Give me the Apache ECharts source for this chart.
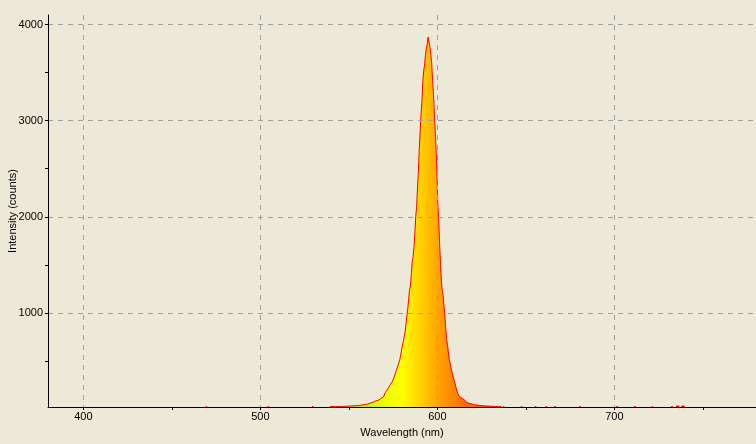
<!DOCTYPE html>
<html>
<head>
<meta charset="utf-8">
<script src="https://cdn.jsdelivr.net/npm/echarts@6/dist/echarts.min.js"></script>
<style>
html,body{margin:0;padding:0;background:#ece9d8;}
#chart{width:756px;height:444px;}
</style>
</head>
<body>
<div id="chart"></div>
<script>
// ---- data ----
const wavelengths = [
  380, 469, 470, 471, 504, 505, 506, 529, 530, 531,
  539, 540, 541, 542, 543, 544, 545, 546, 547, 548, 549, 550, 551, 552, 553, 554, 555,
  556, 557, 558, 559, 560, 561, 562, 563, 564, 565, 566, 567, 568, 569, 570, 571, 572,
  573, 574, 575, 576, 576.5, 577, 577.5, 578, 578.5, 579, 579.5, 580, 580.5, 581, 581.5,
  582, 582.5, 583, 583.5, 584, 584.5, 585, 585.5, 586, 586.5, 587, 587.5, 588, 588.5,
  589, 589.5, 590, 590.5, 591, 591.5, 592, 592.5, 593, 593.5, 594, 594.5, 595, 595.5,
  596, 596.5, 597, 597.5, 598, 598.5, 599, 599.5, 600, 600.5, 601, 601.5, 602, 602.5,
  603, 603.5, 604, 604.5, 605, 605.5, 606, 607, 608, 609, 610, 611, 612, 613, 614, 615,
  616, 617, 618, 619, 620, 621, 622, 623, 624, 625, 626, 627, 628, 629, 630, 631, 632,
  633, 634, 635, 636, 637, 638, 639,
  647, 648, 649, 655, 656, 657, 661, 662, 663, 666, 667, 668, 680, 681, 682,
  701, 702, 703, 711, 712, 713, 721, 722, 723, 732, 733, 734, 736, 737, 739, 740, 780
];
const intensity = [
  0, 0, 30, 0, 0, 30, 0, 0, 30, 0,
  0, 26, 25, 25, 24, 25, 26, 26, 27, 28, 29, 30, 31, 32, 33, 34, 36,
  38, 40, 44, 47, 50, 54, 60, 68, 75, 82, 88, 94, 108, 125, 145, 168, 195,
  225, 255, 282, 330, 365, 400, 425, 452, 480, 510, 560, 615, 665, 700, 750,
  800, 880, 970, 1040, 1140, 1240, 1280, 1400, 1530, 1580, 1680, 1820, 2000, 2100,
  2300, 2470, 2700, 2890, 3060, 3200, 3400, 3520, 3580, 3680, 3760, 3800, 3870, 3890,
  3770, 3690, 3610, 3420, 3290, 3100, 2900, 2700, 2450, 2140, 1960, 1720, 1520, 1330,
  1230, 1180, 1060, 960, 830, 720, 663, 540, 440, 365, 295, 225, 160, 130, 110, 90,
  75, 66, 58, 52, 47, 43, 40, 38, 36, 34, 33, 31, 30, 29, 28, 27, 26,
  25, 25, 25, 25, 0, 28, 0,
  0, 30, 0, 0, 30, 0, 0, 30, 0, 0, 30, 0, 0, 30, 0,
  0, 30, 0, 0, 30, 0, 0, 30, 0, 0, 30, 0, 30, 0, 30, 0, 0
];
const xLabelValues = [400, 500, 600, 700];
const xTickValues = [400, 450, 500, 550, 600, 650, 700, 750];
const yLabelValues = [1000, 2000, 3000, 4000];
const yTickValues = [500, 1000, 1500, 2000, 2500, 3000, 3500, 4000];
const xTitle = 'Wavelength (nm)';
const yTitle = 'Intensity (counts)';
const xRange = [380, 780];
const yRange = [20, 4100];

const points = wavelengths.map((w, i) => [w, intensity[i]]);

const font = 'Liberation Sans, Arial, sans-serif';
const gridBox = { left: 48, top: 15, right: 0, bottom: 37, containLabel: false, outerBoundsMode: 'none' };
const dash = { type: [5, 5], color: '#a0a0a0', width: 1 };
const plain = v => String(v);

const chart = echarts.init(document.getElementById('chart'), null, { renderer: 'canvas' });
chart.setOption({
  animation: false,
  backgroundColor: '#ece9d8',
  grid: [
    Object.assign({}, gridBox),
    Object.assign({}, gridBox)
  ],
  visualMap: {
    type: 'continuous', show: false, dimension: 0, seriesIndex: 0,
    min: 530, max: 650,
    inRange: { color: ['#88c400', '#98d000', '#b0e000', '#ccf000', '#ecfc00', '#ffff00',
                       '#ffd400', '#ffa600', '#ff8000', '#ff6000', '#ff4800', '#ff3800', '#ff3000'] }
  },
  xAxis: [
    {
      type: 'value', gridIndex: 0, min: xRange[0], max: xRange[1], z: 3,
      name: xTitle, nameLocation: 'middle', nameGap: 20, nameMoveOverlap: false,
      nameTextStyle: { color: '#000', fontFamily: font, fontSize: 11 },
      axisLine: { show: true, onZero: false, lineStyle: { color: '#000', width: 1 } },
      axisTick: { show: true, length: 3, customValues: xLabelValues, lineStyle: { color: '#000' } },
      axisLabel: { customValues: xLabelValues, formatter: plain, margin: 4, color: '#000', fontFamily: font, fontSize: 11 },
      splitLine: { show: true, lineStyle: dash }
    },
    {
      type: 'value', gridIndex: 1, min: xRange[0], max: xRange[1], z: 3,
      axisLine: { show: false, onZero: false },
      axisTick: { show: true, length: 3, customValues: xTickValues, lineStyle: { color: '#000' } },
      axisLabel: { show: false },
      splitLine: { show: false }
    }
  ],
  yAxis: [
    {
      type: 'value', gridIndex: 0, min: yRange[0], max: yRange[1], z: 3,
      name: yTitle, nameLocation: 'middle', nameGap: 30, nameMoveOverlap: false,
      nameTextStyle: { color: '#000', fontFamily: font, fontSize: 11 },
      axisLine: { show: true, onZero: false, lineStyle: { color: '#000', width: 1 } },
      axisTick: { show: true, length: 3, customValues: yLabelValues, lineStyle: { color: '#000' } },
      axisLabel: { customValues: yLabelValues, formatter: plain, margin: 5, color: '#000', fontFamily: font, fontSize: 11 },
      splitLine: { show: true, lineStyle: dash }
    },
    {
      type: 'value', gridIndex: 1, min: yRange[0], max: yRange[1], z: 3,
      axisLine: { show: false, onZero: false },
      axisTick: { show: true, length: 3, customValues: yTickValues, lineStyle: { color: '#000' } },
      axisLabel: { show: false },
      splitLine: { show: false }
    }
  ],
  series: [
    {
      type: 'line', xAxisIndex: 0, yAxisIndex: 0, data: points, step: 'middle',
      symbol: 'none', z: 1, silent: true,
      lineStyle: { width: 0, opacity: 0 },
      areaStyle: { opacity: 1 }
    },
    {
      type: 'line', xAxisIndex: 0, yAxisIndex: 0, data: points, step: 'middle',
      symbol: 'none', z: 2, silent: true,
      lineStyle: { color: '#ff0000', width: 1 }
    }
  ]
});
</script>
</body>
</html>
